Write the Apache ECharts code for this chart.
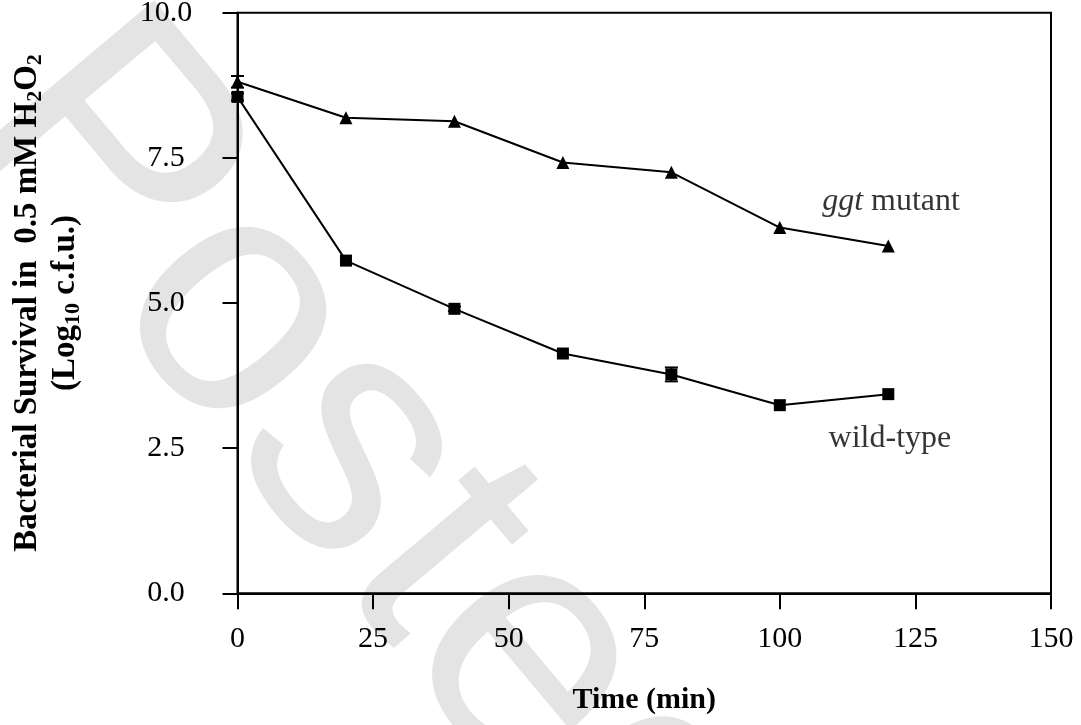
<!DOCTYPE html>
<html><head><meta charset="utf-8">
<script src="https://cdn.jsdelivr.net/npm/echarts@6/dist/echarts.min.js"></script>
<style>html,body{margin:0;padding:0;background:#fff}#c{width:1081px;height:725px}</style>
</head><body><div id="c"></div>
<script>
// ---- data ----
const times = [0, 20, 40, 60, 80, 100, 120];
const mutant = [8.81, 8.19, 8.13, 7.42, 7.25, 6.30, 5.98];
const mutantErr = [0.10, 0, 0, 0, 0, 0, 0];
const wildType = [8.55, 5.73, 4.90, 4.13, 3.77, 3.24, 3.43];
const wildErr = [0.06, 0, 0.04, 0, 0.12, 0, 0];
const xTickValues = [0, 25, 50, 75, 100, 125, 150];
const yTickLabels = ['0.0', '2.5', '5.0', '7.5', '10.0'];
const annotations = [
  { text: '{i|ggt} mutant', x: 120.5, y: 6.74 },
  { text: 'wild-type', x: 120.3, y: 2.67 }
];
const watermarkText = 'Posted';

const SERIF = "'Liberation Serif','Times New Roman',serif";
const chart = echarts.init(document.getElementById('c'), null, { renderer: 'canvas' });

function errRender(color) {
  return function (params, api) {
    const x = api.value(0), lo = api.value(1), hi = api.value(2);
    if (hi === lo) return { type: 'group', children: [] };
    const pHi = api.coord([x, hi]), pLo = api.coord([x, lo]);
    const w = 6.5;
    const st = { stroke: color, lineWidth: 2 };
    return {
      type: 'group', children: [
        { type: 'line', shape: { x1: pHi[0], y1: pHi[1], x2: pLo[0], y2: pLo[1] }, style: st },
        { type: 'line', shape: { x1: pHi[0] - w, y1: pHi[1], x2: pHi[0] + w, y2: pHi[1] }, style: st },
        { type: 'line', shape: { x1: pLo[0] - w, y1: pLo[1], x2: pLo[0] + w, y2: pLo[1] }, style: st }
      ]
    };
  };
}

const option = {
  animation: false,
  backgroundColor: '#fff',
  graphic: [{
    type: 'text', z: -10, x: 29, y: 69, rotation: -50 * Math.PI / 180,
    style: { text: watermarkText, fontSize: 340, fontFamily: "'Liberation Sans',Arial,sans-serif",
             fill: '#e4e4e4', align: 'left', verticalAlign: 'middle' }
  }],
  grid: { left: 237.5, right: 30, top: 12.7, bottom: 131.7, containLabel: false, outerBoundsMode: 'none',
          show: true, borderColor: '#000', borderWidth: 2, backgroundColor: 'transparent' },
  xAxis: {
    type: 'value', min: 0, max: 150, interval: 25,
    axisLine: { show: true, lineStyle: { color: '#000', width: 2 } },
    axisTick: { show: true, inside: false, length: 16, lineStyle: { color: '#000', width: 2 } },
    splitLine: { show: false },
    axisLabel: { margin: 31, color: '#000', fontSize: 30, fontFamily: SERIF,
      formatter: v => xTickValues.includes(v) ? String(v) : '' },
    name: 'Time (min)', nameLocation: 'middle', nameGap: 92,
    nameTextStyle: { color: '#000', fontSize: 30, fontWeight: 'bold', fontFamily: SERIF }
  },
  yAxis: {
    type: 'value', min: 0, max: 10, interval: 2.5,
    axisLine: { show: true, lineStyle: { color: '#000', width: 2 } },
    axisTick: { show: true, inside: false, length: 15, lineStyle: { color: '#000', width: 2 } },
    splitLine: { show: false },
    axisLabel: { margin: 71.5, align: 'center', color: '#000', fontSize: 30, fontFamily: SERIF,
      formatter: v => yTickLabels[Math.round(v / 2.5)] },
    name: 'Bacterial Survival in  0.5 mM H{s|2}O{s|2}\n(Log{s|10} c.f.u.)',
    nameLocation: 'middle', nameRotate: 90, nameGap: 153,
    nameTextStyle: { color: '#000', fontSize: 33, fontWeight: 'bold', fontFamily: SERIF, lineHeight: 38, align: 'center',
      rich: { s: { fontSize: 22, fontWeight: 'bold', fontFamily: SERIF, color: '#000', verticalAlign: 'bottom', lineHeight: 21 } } }
  },
  series: [
    { type: 'custom', name: 'mutantErr', renderItem: errRender('#000'), z: 1,
      data: times.map((t, i) => [t, mutant[i] - mutantErr[i], mutant[i] + mutantErr[i]]) },
    { type: 'custom', name: 'wildErr', renderItem: errRender('#000'), z: 1,
      data: times.map((t, i) => [t, wildType[i] - wildErr[i], wildType[i] + wildErr[i]]) },
    { type: 'line', name: 'ggt mutant', data: times.map((t, i) => [t, mutant[i]]),
      symbol: 'triangle', symbolSize: 13, showAllSymbol: true,
      lineStyle: { color: '#000', width: 2 }, itemStyle: { color: '#000' }, z: 3 },
    { type: 'line', name: 'wild-type', data: times.map((t, i) => [t, wildType[i]]),
      symbol: 'rect', symbolSize: 12, showAllSymbol: true,
      lineStyle: { color: '#000', width: 2 }, itemStyle: { color: '#000' }, z: 3 },
    { type: 'scatter', name: 'labels', symbolSize: 0, silent: true,
      data: annotations.map(a => ({ value: [a.x, a.y], label: { formatter: a.text } })),
      label: { show: true, position: 'inside', color: '#000', fontSize: 32, fontFamily: SERIF,
        rich: { i: { fontStyle: 'italic', fontSize: 32, fontFamily: SERIF, color: '#000' } } } }
  ]
};
chart.setOption(option);
</script>
</body></html>
